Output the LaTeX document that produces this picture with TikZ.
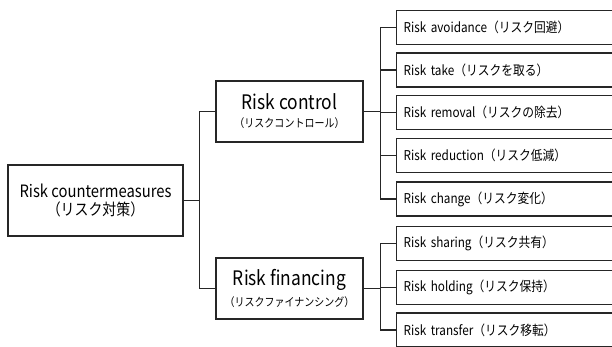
\documentclass[tikz,border=0pt]{standalone}
\usepackage{fontspec}
\setmainfont[FakeStretch=0.87]{Noto Sans CJK JP}
\begin{document}
\begin{tikzpicture}[x=1pt,y=-1pt,
  box/.style={draw=black!85,line width=1.2pt,inner sep=0pt,align=center},
  leaf/.style={draw=black!85,line width=1.2pt,anchor=west,minimum width=240pt,minimum height=34pt,
     text width=226pt,align=left,inner sep=0pt,font=\fontsize{13.5}{16}\selectfont},
  conn/.style={draw=black!85,line width=1.2pt}]
\useasboundingbox (0,0) rectangle (612,347);
\clip (0,0) rectangle (612,347);
\fill[white] (0,0) rectangle (612,347);
\node[box,minimum width=175pt,minimum height=71pt] (cm) at (95.5,200.5)
  {\fontsize{17}{20}\selectfont Risk countermeasures\\[3pt]\fontsize{16}{18}\selectfont（リスク対策）};
\node[box,minimum width=147pt,minimum height=61pt] (ctl) at (289.5,111.5)
  {\fontsize{20}{22}\selectfont Risk control\\[6pt]\fontsize{11.5}{12}\selectfont（リスクコントロール）};
\node[box,minimum width=147pt,minimum height=61pt] (fin) at (289.5,288.5)
  {\fontsize{20}{22}\selectfont Risk financing\\[6pt]\fontsize{11.5}{12}\selectfont（リスクファイナンシング）};
\node[leaf] (l1) at (396,27.5) {Risk avoidance（リスク回避）};
\node[leaf] (l2) at (396,70) {Risk take（リスクを取る）};
\node[leaf] (l3) at (396,112.5) {Risk removal（リスクの除去）};
\node[leaf] (l4) at (396,155.5) {Risk reduction（リスク低減）};
\node[leaf] (l5) at (396,199) {Risk change（リスク変化）};
\node[leaf] (l6) at (396,243.5) {Risk sharing（リスク共有）};
\node[leaf] (l7) at (396,287.5) {Risk holding（リスク保持）};
\node[leaf] (l8) at (396,330) {Risk transfer（リスク移転）};
\draw[conn] (cm.east) -- ++(16,0) |- (ctl.west);
\draw[conn] (cm.east) -- ++(16,0) |- (fin.west);
\foreach \n in {l1,l2,l3,l4,l5}{\draw[conn] (ctl.east) -- ++(17,0) |- (\n.west);}
\foreach \n in {l6,l7,l8}{\draw[conn] (fin.east) -- ++(17,0) |- (\n.west);}
\end{tikzpicture}
\end{document}
